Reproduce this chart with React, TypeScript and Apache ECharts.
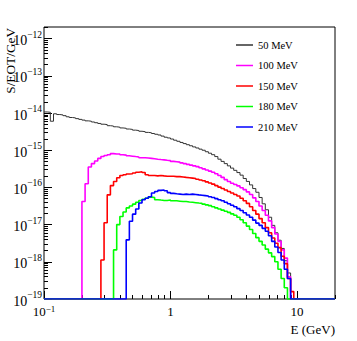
import React, { useEffect, useRef } from "react";
import * as echarts from "echarts";

// Log-spaced bin edges (GeV), 0.025 decade wide
const binEdges = [
  0.1, 0.1059, 0.1122, 0.1189, 0.1259, 0.1334, 0.1413, 0.1496, 0.1585, 0.1679,
  0.1778, 0.1884, 0.1995, 0.2113, 0.2239, 0.2371, 0.2512, 0.2661, 0.2818, 0.2985,
  0.3162, 0.335, 0.3548, 0.3758, 0.3981, 0.4217, 0.4467, 0.4732, 0.5012, 0.5309,
  0.5623, 0.5957, 0.631, 0.6683, 0.7079, 0.7499, 0.7943, 0.8414, 0.8913, 0.9441,
  1, 1.059, 1.122, 1.189, 1.259, 1.334, 1.413, 1.496, 1.585, 1.679,
  1.778, 1.884, 1.995, 2.113, 2.239, 2.371, 2.512, 2.661, 2.818, 2.985,
  3.162, 3.35, 3.548, 3.758, 3.981, 4.217, 4.467, 4.732, 5.012, 5.309,
  5.623, 5.957, 6.31, 6.683, 7.079, 7.499, 7.943, 8.414, 8.913, 9.441,
  10, 10.59, 11.22, 11.89, 12.59, 13.34, 14.13, 14.96, 15.85, 16.79,
  17.78, 18.84, 19.95,
];

const seriesNames = ["50 MeV", "100 MeV", "150 MeV", "180 MeV", "210 MeV"];
const seriesColors = ["#333333", "#ff00ff", "#ff0000", "#00ff00", "#0000ff"];

const s50MeV = [
  1.07e-14, 1.05e-14, 6.03e-15, 9.55e-15, 9.12e-15, 8.91e-15, 8.51e-15, 7.94e-15, 7.59e-15, 7.41e-15,
  7.08e-15, 6.76e-15, 6.46e-15, 6.17e-15, 6.03e-15, 5.75e-15, 5.5e-15, 5.25e-15, 5.01e-15, 4.9e-15,
  4.57e-15, 4.47e-15, 4.27e-15, 4.17e-15, 3.98e-15, 3.89e-15, 3.72e-15, 3.63e-15, 3.47e-15, 3.39e-15,
  3.24e-15, 3.16e-15, 3.02e-15, 2.95e-15, 2.82e-15, 2.69e-15, 2.57e-15, 2.4e-15, 2.24e-15, 2.14e-15,
  2.0e-15, 1.86e-15, 1.74e-15, 1.62e-15, 1.51e-15, 1.41e-15, 1.32e-15, 1.23e-15, 1.15e-15, 1.07e-15,
  1.0e-15, 9.12e-16, 8.32e-16, 7.59e-16, 6.76e-16, 5.75e-16, 5.01e-16, 4.37e-16, 3.8e-16, 3.31e-16,
  2.88e-16, 2.51e-16, 2.14e-16, 1.74e-16, 1.45e-16, 1.17e-16, 9.33e-17, 7.41e-17, 5.37e-17, 3.63e-17,
  2.51e-17, 1.58e-17, 9.55e-18, 6.03e-18, 3.8e-18, 2.29e-18, 1.07e-18, 5.01e-19, 0, 0,
  0, 0, 0, 0, 0, 0, 0, 0, 0, 0, 0, 0,
];

const s100MeV = [
  0, 0, 0, 0, 0, 0, 0, 0, 0, 0,
  0, 0, 4.17e-17, 1.26e-16, 3.55e-16, 4.37e-16, 5.13e-16, 6.03e-16, 6.76e-16, 7.24e-16,
  7.59e-16, 8.13e-16, 7.94e-16, 7.94e-16, 7.59e-16, 7.41e-16, 7.08e-16, 6.92e-16, 6.76e-16, 6.61e-16,
  6.31e-16, 6.31e-16, 6.17e-16, 6.03e-16, 5.89e-16, 5.75e-16, 5.62e-16, 5.5e-16, 5.37e-16, 5.25e-16,
  5.01e-16, 4.9e-16, 4.79e-16, 4.57e-16, 4.37e-16, 4.17e-16, 3.98e-16, 3.8e-16, 3.63e-16, 3.39e-16,
  3.16e-16, 2.95e-16, 2.75e-16, 2.57e-16, 2.34e-16, 2.09e-16, 1.86e-16, 1.62e-16, 1.45e-16, 1.3e-16,
  1.2e-16, 1.1e-16, 9.77e-17, 8.71e-17, 7.59e-17, 6.46e-17, 5.25e-17, 4.17e-17, 3.16e-17, 2.4e-17,
  1.78e-17, 1.26e-17, 8.32e-18, 5.62e-18, 3.55e-18, 2.09e-18, 1.26e-18, 3.98e-19, 0, 0,
  0, 0, 0, 0, 0, 0, 0, 0, 0, 0, 0, 0,
];

const s150MeV = [
  0, 0, 0, 0, 0, 0, 0, 0, 0, 0,
  0, 0, 0, 0, 0, 0, 0, 0, 1.12e-18, 1.12e-17,
  6.31e-17, 1.12e-16, 1.45e-16, 1.82e-16, 2.09e-16, 2.19e-16, 2.29e-16, 2.34e-16, 2.45e-16, 2.57e-16,
  2.63e-16, 2.51e-16, 2.19e-16, 2.09e-16, 2.09e-16, 2.04e-16, 2.09e-16, 2.04e-16, 2.0e-16, 2.0e-16,
  2.0e-16, 1.95e-16, 1.95e-16, 1.91e-16, 1.86e-16, 1.82e-16, 1.78e-16, 1.74e-16, 1.66e-16, 1.58e-16,
  1.51e-16, 1.41e-16, 1.32e-16, 1.23e-16, 1.12e-16, 1.02e-16, 9.33e-17, 8.51e-17, 7.76e-17, 7.08e-17,
  6.46e-17, 5.89e-17, 5.13e-17, 4.37e-17, 3.72e-17, 3.02e-17, 2.4e-17, 1.91e-17, 1.45e-17, 1.12e-17,
  8.32e-18, 6.03e-18, 4.37e-18, 3.16e-18, 2.4e-18, 1.41e-18, 8.91e-19, 3.55e-19, 1.58e-19, 0,
  0, 0, 0, 0, 0, 0, 0, 0, 0, 0, 0, 0,
];

const s180MeV = [
  0, 0, 0, 0, 0, 0, 0, 0, 0, 0,
  0, 0, 0, 0, 0, 0, 0, 0, 0, 0,
  0, 0, 2.09e-18, 1.0e-17, 1.66e-17, 2.19e-17, 2.82e-17, 3.16e-17, 3.55e-17, 3.98e-17,
  4.47e-17, 4.79e-17, 5.13e-17, 5.5e-17, 5.37e-17, 4.68e-17, 4.57e-17, 4.47e-17, 4.47e-17, 4.57e-17,
  4.37e-17, 4.37e-17, 4.27e-17, 4.17e-17, 4.17e-17, 4.07e-17, 3.98e-17, 3.89e-17, 3.8e-17, 3.72e-17,
  3.55e-17, 3.39e-17, 3.24e-17, 3.02e-17, 2.82e-17, 2.63e-17, 2.45e-17, 2.29e-17, 2.14e-17, 1.95e-17,
  1.78e-17, 1.58e-17, 1.35e-17, 1.12e-17, 9.12e-18, 7.41e-18, 5.75e-18, 4.47e-18, 3.55e-18, 2.82e-18,
  2.19e-18, 1.74e-18, 1.38e-18, 1.0e-18, 6.31e-19, 3.55e-19, 2.0e-19, 0, 0, 0,
  0, 0, 0, 0, 0, 0, 0, 0, 0, 0, 0, 0,
];

const s210MeV = [
  0, 0, 0, 0, 0, 0, 0, 0, 0, 0,
  0, 0, 0, 0, 0, 0, 0, 0, 0, 0,
  0, 0, 0, 0, 0, 0, 3.89e-18, 1.23e-17, 1.91e-17, 2.63e-17,
  3.8e-17, 4.68e-17, 5.13e-17, 5.62e-17, 7.08e-17, 7.76e-17, 8.32e-17, 8.51e-17, 8.13e-17, 7.24e-17,
  6.92e-17, 6.76e-17, 6.61e-17, 6.46e-17, 6.61e-17, 6.46e-17, 6.61e-17, 6.46e-17, 6.31e-17, 6.17e-17,
  6.03e-17, 5.89e-17, 5.62e-17, 5.37e-17, 5.01e-17, 4.68e-17, 4.37e-17, 3.98e-17, 3.63e-17, 3.31e-17,
  3.02e-17, 2.69e-17, 2.4e-17, 2.09e-17, 1.82e-17, 1.58e-17, 1.32e-17, 1.1e-17, 9.55e-18, 7.94e-18,
  6.61e-18, 5.01e-18, 3.55e-18, 2.51e-18, 1.78e-18, 1.12e-18, 6.31e-19, 3.55e-19, 0, 0,
  0, 0, 0, 0, 0, 0, 0, 0, 0, 0, 0, 0,
];

const allSeries = [s50MeV, s100MeV, s150MeV, s180MeV, s210MeV];

// Axis ticks
const xMajorTicks = [0.1, 1, 10];
const xMinorTicks = [0.2, 0.3, 0.4, 0.5, 0.6, 0.7, 0.8, 0.9, 2, 3, 4, 5, 6, 7, 8, 9, 20];
const yMajorTicks = [1e-19, 1e-18, 1e-17, 1e-16, 1e-15, 1e-14, 1e-13, 1e-12];
const yMinorTicks = [
  2e-19, 3e-19, 4e-19, 5e-19, 6e-19, 7e-19, 8e-19, 9e-19,
  2e-18, 3e-18, 4e-18, 5e-18, 6e-18, 7e-18, 8e-18, 9e-18,
  2e-17, 3e-17, 4e-17, 5e-17, 6e-17, 7e-17, 8e-17, 9e-17,
  2e-16, 3e-16, 4e-16, 5e-16, 6e-16, 7e-16, 8e-16, 9e-16,
  2e-15, 3e-15, 4e-15, 5e-15, 6e-15, 7e-15, 8e-15, 9e-15,
  2e-14, 3e-14, 4e-14, 5e-14, 6e-14, 7e-14, 8e-14, 9e-14,
  2e-13, 3e-13, 4e-13, 5e-13, 6e-13, 7e-13, 8e-13, 9e-13,
  2e-12,
];

const X_MIN = 0.1;
const X_MAX = 20;
const Y_MIN = 1e-19;
const Y_MAX = 2.06e-12;

const FONT = '"Liberation Serif", "DejaVu Serif", serif';

const powLabel = (v: number) => {
  const e = Math.round(Math.log10(v));
  if (e === 0) return "{b|1}";
  if (e === 1) return "{b|10}";
  return `{b|10}{s|\u2212${-e}}`;
};

export default function App() {
  const ref = useRef<HTMLDivElement>(null);

  useEffect(() => {
    if (!ref.current) return;
    const chart = echarts.init(ref.current, undefined, { renderer: "svg" });

    const nBins = binEdges.length - 1;
    const toSteps = (vals: number[]) => {
      const pts: [number, number][] = [];
      for (let i = 0; i < nBins; i++) {
        const v = vals[i];
        pts.push([binEdges[i], v && v > Y_MIN ? v : Y_MIN]);
      }
      pts.push([binEdges[nBins], pts[nBins - 1][1]]);
      return pts;
    };

    const richY = {
      b: { fontSize: 14, lineHeight: 18, verticalAlign: "bottom", fontFamily: FONT, color: "#000" },
      s: { fontSize: 9.5, lineHeight: 10, verticalAlign: "top", fontFamily: FONT, color: "#000" },
    };
    const richX = {
      b: { fontSize: 13, lineHeight: 14, verticalAlign: "bottom", fontFamily: FONT, color: "#000" },
      s: { fontSize: 9, lineHeight: 8, verticalAlign: "top", fontFamily: FONT, color: "#000" },
    };

    const baseX = {
      type: "log",
      logBase: 10,
      min: X_MIN,
      max: X_MAX,
      gridIndex: 0,
      position: "bottom",
      axisLine: { show: false },
      splitLine: { show: false },
      minorTick: { show: false },
      minorSplitLine: { show: false },
    };
    const baseY = {
      type: "log",
      logBase: 10,
      min: Y_MIN,
      max: Y_MAX,
      gridIndex: 0,
      position: "left",
      axisLine: { show: false },
      splitLine: { show: false },
      minorTick: { show: false },
      minorSplitLine: { show: false },
    };

    const option: any = {
      animation: false,
      backgroundColor: "#ffffff",
      textStyle: { fontFamily: FONT },
      grid: {
        left: 44,
        right: 22,
        top: 27,
        bottom: 42,
        show: true,
        borderColor: "#000",
        borderWidth: 1,
        backgroundColor: "transparent",
        containLabel: false,
        outerBoundsMode: "none",
      },
      xAxis: [
        {
          ...baseX,
          axisTick: {
            show: true,
            inside: true,
            length: 8,
            customValues: xMajorTicks,
            lineStyle: { color: "#000", width: 1 },
          },
          axisLabel: {
            show: true,
            customValues: xMajorTicks,
            margin: 5,
            formatter: (v: number) => powLabel(v),
            rich: richX,
          },
        },
        {
          ...baseX,
          axisTick: {
            show: true,
            inside: true,
            length: 4,
            customValues: xMinorTicks,
            lineStyle: { color: "#000", width: 1 },
          },
          axisLabel: { show: false },
        },
      ],
      yAxis: [
        {
          ...baseY,
          axisTick: {
            show: true,
            inside: true,
            length: 8,
            customValues: yMajorTicks,
            lineStyle: { color: "#000", width: 1 },
          },
          axisLabel: {
            show: true,
            customValues: yMajorTicks,
            margin: 2,
            formatter: (v: number) => powLabel(v),
            rich: richY,
          },
        },
        {
          ...baseY,
          axisTick: {
            show: true,
            inside: true,
            length: 4,
            customValues: yMinorTicks,
            lineStyle: { color: "#000", width: 1 },
          },
          axisLabel: { show: false },
        },
      ],
      legend: {
        orient: "vertical",
        left: 231,
        top: 33,
        padding: 5,
        itemWidth: 17,
        itemHeight: 1.5,
        itemGap: 6.5,
        icon: "rect",
        selectedMode: false,
        data: seriesNames,
        textStyle: { fontFamily: FONT, fontSize: 10.5, color: "#000", lineHeight: 14 },
      },
      graphic: [
        {
          type: "text",
          x: 4,
          y: 28,
          rotation: Math.PI / 2,
          style: {
            text: "S/EOT/GeV",
            font: `13.3px ${FONT}`,
            fill: "#000",
            align: "right",
            textAlign: "right",
            verticalAlign: "top",
            textVerticalAlign: "top",
          },
        },
        {
          type: "text",
          x: 335,
          y: 329,
          style: {
            text: "E (GeV)",
            font: `13px ${FONT}`,
            fill: "#000",
            align: "right",
            textAlign: "right",
            verticalAlign: "middle",
            textVerticalAlign: "middle",
          },
        },
      ],
      series: allSeries.map((vals, i) => ({
        name: seriesNames[i],
        type: "line",
        xAxisIndex: 0,
        yAxisIndex: 0,
        step: "end",
        showSymbol: false,
        symbol: "none",
        clip: true,
        color: seriesColors[i],
        itemStyle: { color: seriesColors[i] },
        lineStyle: { color: seriesColors[i], width: i === 0 ? 1 : 1.6 },
        emphasis: { disabled: true },
        data: toSteps(vals),
      })),
    };

    chart.setOption(option);
    return () => chart.dispose();
  }, []);

  return (
    <div
      ref={ref}
      style={{ position: "absolute", left: 0, top: 0, width: 357, height: 341, background: "#fff" }}
    />
  );
}
